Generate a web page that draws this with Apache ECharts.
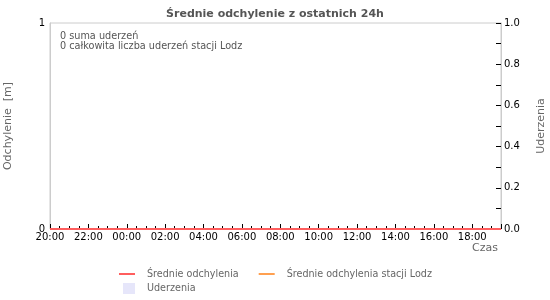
<!DOCTYPE html>
<html><head><meta charset="utf-8">
<script src="https://cdn.jsdelivr.net/npm/echarts@6/dist/echarts.min.js"></script>
<style>html,body{margin:0;padding:0;background:#fff}#c{width:550px;height:300px}</style>
</head><body><div id="c"></div>
<script>
// hours since 20:00
const hours = [0,1,2,3,4,5,6,7,8,9,10,11,12,13,14,15,16,17,18,19,20,21,22,23,23.5];
const avgDev = [0,0,0,0,0,0,0,0,0,0,0,0,0,0,0,0,0,0,0,0,0,0,0,0,0];
const avgDevLodz = [0,0,0,0,0,0,0,0,0,0,0,0,0,0,0,0,0,0,0,0,0,0,0,0,0];
const strikes = [];
const startHour = 20;
const infoLines = ['0 suma uderzeń', '0 całkowita liczba uderzeń stacji Lodz'];

const font = 'DejaVu Sans';
const chart = echarts.init(document.getElementById('c'), null, {renderer:'canvas'});
chart.setOption({
  animation:false,
  textStyle:{fontFamily:font},
  title:{text:'Średnie odchylenie z ostatnich 24h', left:'center', top:4,
    textStyle:{fontSize:11, fontWeight:'bold', color:'#555', fontFamily:font}},
  grid:{left:50, right:49, top:23, bottom:71, show:true, borderColor:'#ccc', borderWidth:1, containLabel:false, outerBoundsMode:'none'},
  legend:[
    {data:['Średnie odchylenia','Średnie odchylenia stacji Lodz'], left:114, top:264, itemGap:20,
      itemWidth:16, itemHeight:2, icon:'rect', textStyle:{fontSize:9.6, color:'#666', fontFamily:font, padding:[0,0,0,7]}},
    {data:['Uderzenia'], left:118, top:278, itemWidth:12, itemHeight:11, icon:'rect',
      textStyle:{fontSize:9.6, color:'#666', fontFamily:font, padding:[0,0,0,7]}}
  ],
  graphic:[{type:'text', left:60, top:31, style:{text:infoLines.join('\n'), fontSize:9.7, lineHeight:10, fill:'#555', fontFamily:font}}],
  xAxis:{type:'value', min:0, max:23.5, interval:2, name:'Czas', nameLocation:'end',
    nameGap:-3, nameTextStyle:{fontSize:11, color:'#666', padding:[14,0,0,0], verticalAlign:'top', align:'right'},
    axisLine:{show:false}, splitLine:{show:false},
    axisTick:{inside:true, length:5, lineStyle:{color:'#000'}},
    minorTick:{show:true, splitNumber:4, length:3, lineStyle:{color:'#000'}},
    axisLabel:{fontSize:10, color:'#000', margin:3, showMaxLabel:false,
      formatter:v=>{const h=(startHour+v)%24;return (h<10?'0':'')+h+':00';}}},
  yAxis:[
    {type:'value', min:0, max:1, interval:1, position:'left', name:'Odchylenie  [m]', nameLocation:'middle', nameGap:36,
      nameTextStyle:{fontSize:11, color:'#666'},
      axisLine:{show:true, lineStyle:{color:'#ccc'}}, axisTick:{show:false}, splitLine:{show:false},
      axisLabel:{fontSize:10, color:'#000', margin:5}},
    {type:'value', min:0, max:1, interval:0.2, position:'right', name:'Uderzenia', nameLocation:'middle', nameGap:35,
      nameTextStyle:{fontSize:11, color:'#666'},
      axisLine:{show:true, lineStyle:{color:'#ccc'}}, splitLine:{show:false},
      axisTick:{inside:true, length:5, lineStyle:{color:'#000'}},
      minorTick:{show:true, splitNumber:2, length:5, lineStyle:{color:'#000'}},
      axisLabel:{fontSize:10, color:'#000', margin:3, formatter:v=>v.toFixed(1)}}
  ],
  series:[
    {name:'Uderzenia', type:'bar', yAxisIndex:1, itemStyle:{color:'#e6e6fa'}, data:strikes},
    {name:'Średnie odchylenia stacji Lodz', type:'line', symbol:'none', lineStyle:{color:'#ffa050', width:2}, itemStyle:{color:'#ffa050'},
      data:hours.map((h,i)=>[h,avgDevLodz[i]])},
    {name:'Średnie odchylenia', type:'line', symbol:'none', lineStyle:{color:'#ff5e5e', width:2}, itemStyle:{color:'#ff5e5e'},
      data:hours.map((h,i)=>[h,avgDev[i]])}
  ]
});
</script></body></html>
